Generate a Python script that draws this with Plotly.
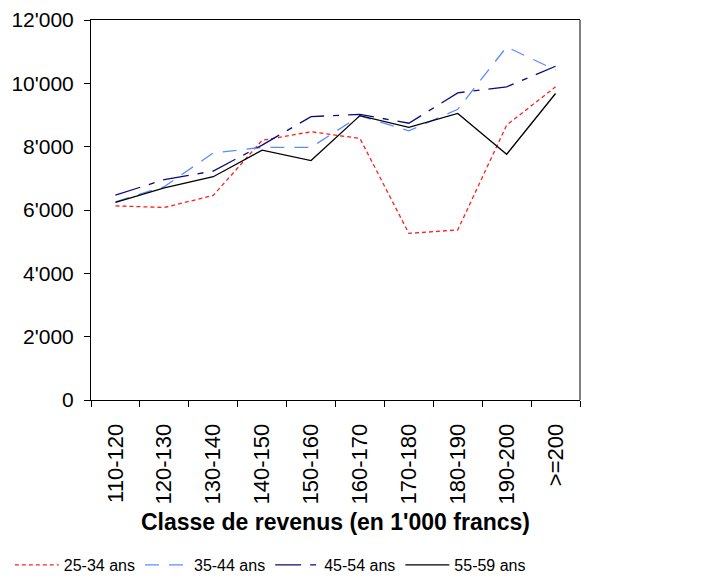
import plotly.graph_objects as go

categories = ['110-120', '120-130', '130-140', '140-150', '150-160',
              '160-170', '170-180', '180-190', '190-200', '>=200']

ans_25_34 = [6130, 6080, 6460, 8200, 8470, 8260, 5260, 5370, 8680, 9890]
ans_35_44 = [6260, 6740, 7800, 7980, 7980, 8970, 8500, 9180, 11150, 10420]
ans_45_54 = [6470, 6960, 7230, 8050, 8950, 9020, 8740, 9700, 9890, 10540]
ans_55_59 = [6240, 6700, 7050, 7890, 7560, 8980, 8610, 9050, 7760, 9680]

series = [
    ('25-34 ans', ans_25_34, '#ff2020', '4px,3px'),
    ('35-44 ans', ans_35_44, '#5b8cff', '14px,10px'),
    ('45-54 ans', ans_45_54, '#0a0a80', '26px,9px,6px,9px'),
    ('55-59 ans', ans_55_59, '#000000', 'solid'),
]

fig = go.Figure()
for name, vals, color, dash in series:
    fig.add_trace(go.Scatter(
        x=categories, y=vals, name=name, mode='lines',
        line=dict(color=color, width=1.3, dash=dash),
    ))

# the page adds an 8px body margin, so the figure is sized 8px smaller
fig.update_layout(
    width=717, height=570,
    margin=dict(l=83, r=145, t=12, b=178, autoexpand=False),
    paper_bgcolor='white', plot_bgcolor='white',
    font=dict(family='Liberation Sans, Arial, sans-serif', size=21, color='black'),
    separators=".'",
    showlegend=True,
    legend=dict(orientation='h', x=-0.166, y=-0.434, xanchor='left', yanchor='middle',
                font=dict(size=16), itemwidth=44),
    shapes=[dict(type='line', xref='paper', yref='paper', x0=1, x1=1, y0=0, y1=1,
                 line=dict(color='#808080', width=2))],
)
fig.update_xaxes(
    type='category', range=[-0.5, len(categories) - 0.5],
    tickangle=-90, tickson='boundaries',
    ticks='outside', ticklen=6, tickcolor='black', ticklabelstandoff=14,
    tickfont=dict(size=22),
    showline=True, linecolor='black', linewidth=1, mirror=True,
    showgrid=False, automargin=False,
    title=dict(text='<b>Classe de revenus (en 1\'000 francs)</b>', font=dict(size=23), standoff=10),
)
fig.update_yaxes(
    range=[0, 12000], dtick=2000, tickformat=',',
    ticks='outside', ticklen=6, tickcolor='black', ticklabelstandoff=6,
    showline=True, linecolor='black', linewidth=1, mirror=False,
    showgrid=False, zeroline=False, automargin=False,
)

fig.write_html("out.html")
